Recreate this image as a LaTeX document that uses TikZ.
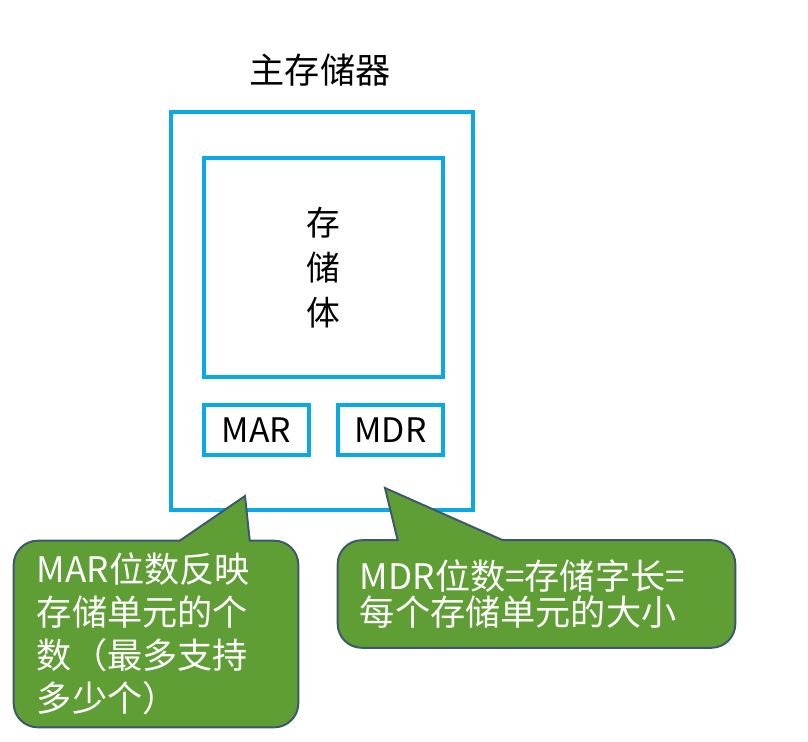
\documentclass[tikz,border=0pt]{standalone}
\usepackage{fontspec}
\setmainfont{Noto Sans CJK SC}
\usetikzlibrary{positioning,backgrounds}
\definecolor{memblue}{RGB}{10,168,228}
\definecolor{notegreen}{RGB}{95,158,52}
\definecolor{noteedge}{RGB}{61,88,108}
\pgfdeclarelayer{bubble}
\pgfsetlayers{background,bubble,main}

\begin{document}
\begin{tikzpicture}[
  x=0.025cm, y=-0.025cm,
  every node/.style={inner sep=0pt},
  membox/.style={
    draw=memblue, line width=2.8pt, align=center,
    font=\fontsize{24}{32}\selectfont
  },
  notebox/.style={
    text=white, align=left,
    font=\fontsize{25}{30.6}\selectfont
  },
  bubble/.style={draw=noteedge, line width=1.4pt, fill=notegreen}
]
\useasboundingbox (0,0) rectangle (808,742);

\node[font=\fontsize{25}{30}\selectfont] (title) at (320,70) {主存储器};

%% Blue boxes
\begin{scope}[on background layer]
\node[membox, minimum width=7.55cm, minimum height=9.95cm] (mem) at (322,311) {};
\node[membox, minimum width=5.975cm, minimum height=5.475cm] (body) at (323.5,267.5) {存\\储\\体};
\node[membox, minimum width=2.625cm, minimum height=1.25cm] (mar) at (256.5,430) {MAR};
\node[membox, minimum width=2.625cm, minimum height=1.25cm] (mdr) at (390.5,430) {MDR};
\end{scope}

%% Notes
\node[notebox, text width=5.95cm, minimum width=7.1cm, minimum height=4.65cm] (marnote) at (156,634)
  {MAR位数反映\\存储单元的个\\数（最多支持\\多少个）};
\node[notebox, text width=8.825cm, minimum width=9.925cm, minimum height=2.675cm,
  font=\fontsize{25}{25}\selectfont] (mdrnote) at (536.5,594)
  {MDR位数=存储字长=\\每个存储单元的大小};

\coordinate (martip) at (245,496);
\coordinate (mdrtip) at (385,488);

\begin{pgfonlayer}{bubble}
\draw[bubble] (martip) -- ([xshift=5.9cm]marnote.north west) [rounded corners=0.6cm]
  -- (marnote.north east) -- (marnote.south east) -- (marnote.south west)
  -- (marnote.north west) [sharp corners] -- ([xshift=4.15cm]marnote.north west) -- cycle;
\draw[bubble] (mdrtip) -- ([xshift=4.125cm]mdrnote.north west) [rounded corners=0.6cm]
  -- (mdrnote.north east) -- (mdrnote.south east) -- (mdrnote.south west)
  -- (mdrnote.north west) [sharp corners] -- ([xshift=1.5cm]mdrnote.north west) -- cycle;
\end{pgfonlayer}

\end{tikzpicture}
\end{document}
